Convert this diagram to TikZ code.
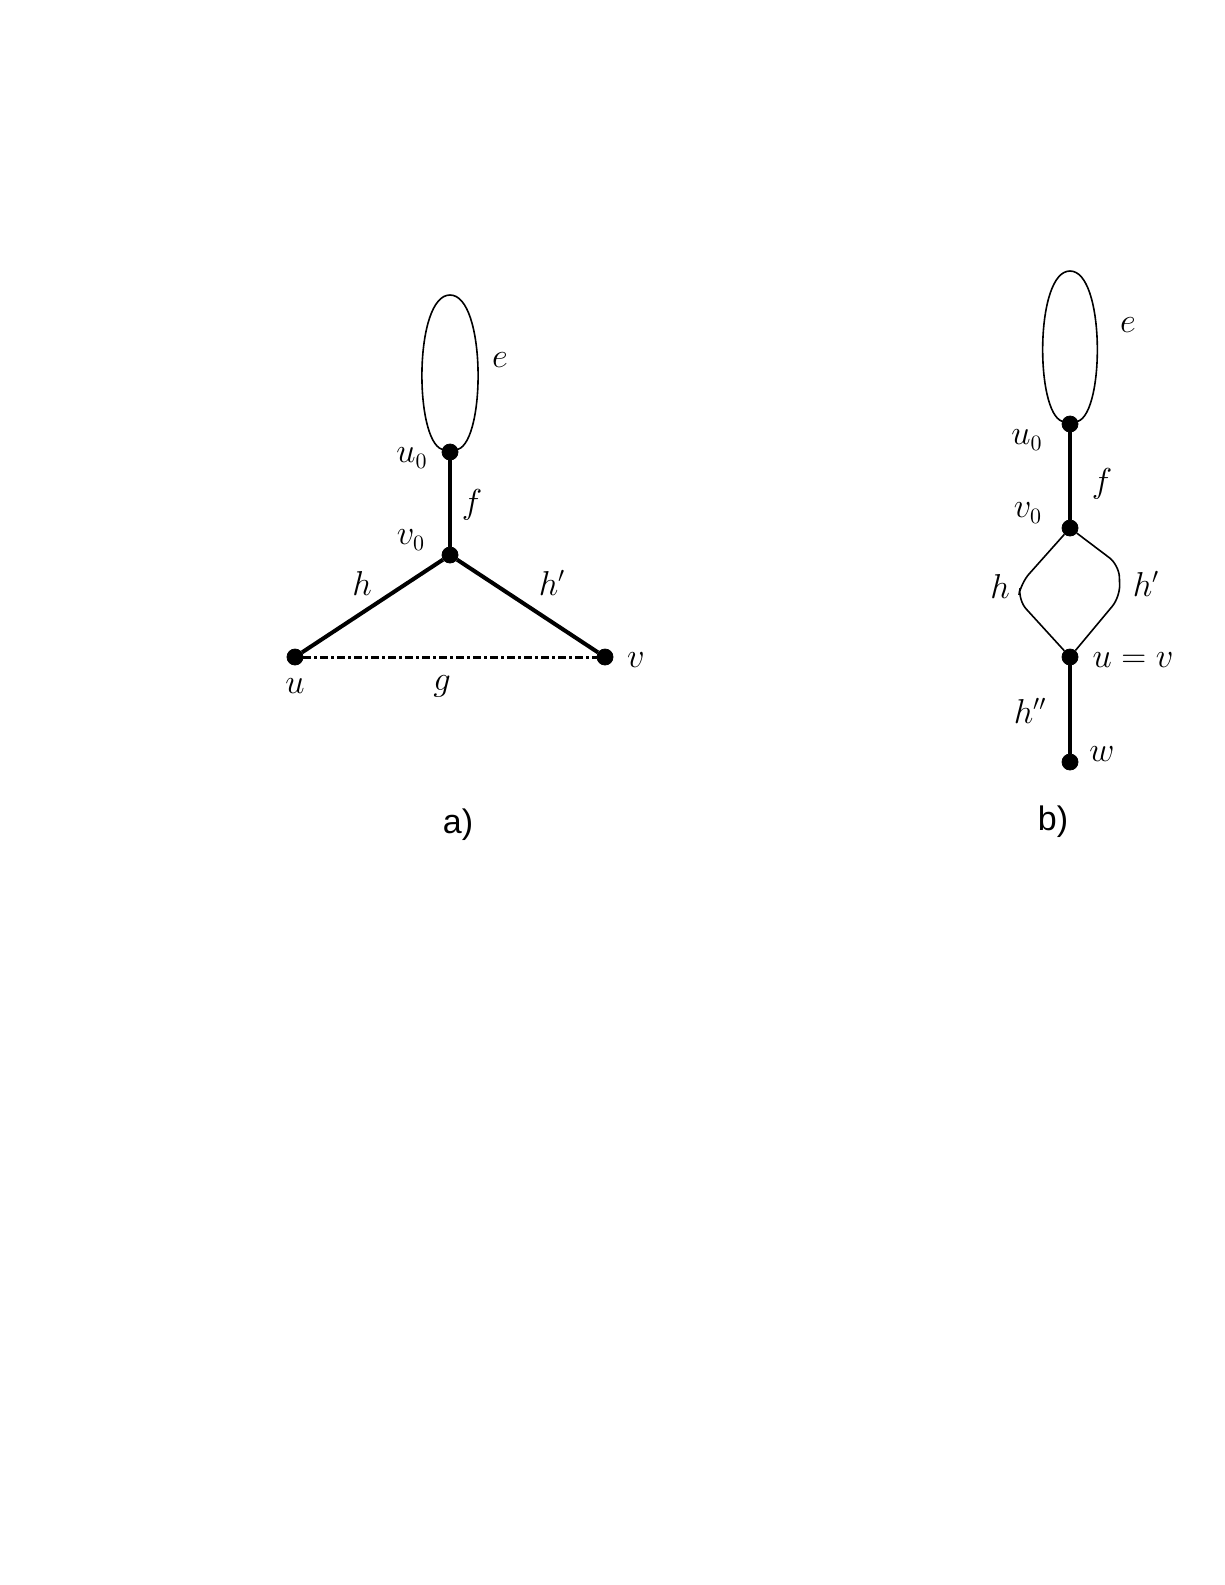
\documentclass[tikz,border=0pt]{standalone}
\usepackage{fontspec}
\newfontfamily\capfont{Liberation Sans}
\begin{document}
\begin{tikzpicture}[x=0.5pt,y=0.5pt,yscale=-1,xscale=1,
  vtx/.style={circle,fill=black,draw=black,inner sep=0pt,minimum size=8pt},
  boldedge/.style={line width=2pt},
  thinedge/.style={line width=0.8pt},
  dashdotedge/.style={line width=1.5pt,dash pattern={on 4pt off 1.5pt on 1.5pt off 1.5pt}},
  lbl/.style={inner sep=0.75pt,font=\fontsize{16}{19}\selectfont},
  partlbl/.style={inner sep=0.75pt,font=\capfont\fontsize{17}{20}\selectfont}]
\useasboundingbox (0,0) rectangle (1225,1585);

%Shape: Vertices a)
\node [vtx] (u0A) at (450,452) {};
\node [vtx] (v0A) at (450,555) {};
\node [vtx] (uA) at (295,657) {};
\node [vtx] (vA) at (605,657) {};
\coordinate (eAtop) at (450,295);

%Straight Lines a)
\draw [thinedge] (u0A) .. controls (414,440) and (414,295) .. (eAtop) .. controls (486,295) and (486,440) .. (u0A) ;
\draw [boldedge] (u0A) -- (v0A) ;
\draw [boldedge] (v0A) -- (uA) ;
\draw [boldedge] (v0A) -- (vA) ;
\draw [dashdotedge] (uA) -- (vA) ;

%Shape: Vertices b)
\node [vtx] (u0B) at (1070,424) {};
\node [vtx] (v0B) at (1070,528) {};
\node [vtx] (uvB) at (1070,657) {};
\node [vtx] (wB) at (1070,762) {};
\coordinate (eBtop) at (1070,271);
\coordinate (hB1) at (1021,583);
\coordinate (hB2) at (1018,600);
\coordinate (hpB1) at (1119,565);
\coordinate (hpB2) at (1120,597);

%Straight Lines b)
\draw [thinedge] (u0B) .. controls (1035,412) and (1035,271) .. (eBtop) .. controls (1105,271) and (1105,412) .. (u0B) ;
\draw [boldedge] (u0B) -- (v0B) ;
\draw [thinedge,rounded corners=6pt] (v0B) -- (hB1) -- (hB2) -- (uvB) ;
\draw [thinedge,rounded corners=6pt] (v0B) -- (hpB1) -- (hpB2) -- (uvB) ;
\draw [boldedge] (uvB) -- (wB) ;

% Text Node
\draw (500,360) node (eAl) [lbl] {$e$};
% Text Node
\draw (412,458) node (u0Al) [lbl] {$u_0$};
% Text Node
\draw (472,505) node (fAl) [lbl] {$f$};
% Text Node
\draw (411,540) node (v0Al) [lbl] {$v_0$};
% Text Node
\draw (362,583) node (hAl) [lbl] {$h$};
% Text Node
\draw (552,583) node (hpAl) [lbl] {$h'$};
% Text Node
\draw (295,686) node (uAl) [lbl] {$u$};
% Text Node
\draw (442,686) node (gAl) [lbl] {$g$};
% Text Node
\draw (636,660) node (vAl) [lbl] {$v$};
% Text Node
\draw (458,825) node (capA) [partlbl] {a)};

% Text Node
\draw (1128,325) node (eBl) [lbl] {$e$};
% Text Node
\draw (1027,440) node (u0Bl) [lbl] {$u_0$};
% Text Node
\draw (1102,484) node (fBl) [lbl] {$f$};
% Text Node
\draw (1028,513) node (v0Bl) [lbl] {$v_0$};
% Text Node
\draw (1000,586) node (hBl) [lbl] {$h$};
% Text Node
\draw (1146,584) node (hpBl) [lbl] {$h'$};
% Text Node
\draw (1133,660) node (uvBl) [lbl] {$u=v$};
% Text Node
\draw (1030,711) node (hppBl) [lbl] {$h''$};
% Text Node
\draw (1102,754) node (wBl) [lbl] {$w$};
% Text Node
\draw (1053,822) node (capB) [partlbl] {b)};

\end{tikzpicture}
\end{document}
